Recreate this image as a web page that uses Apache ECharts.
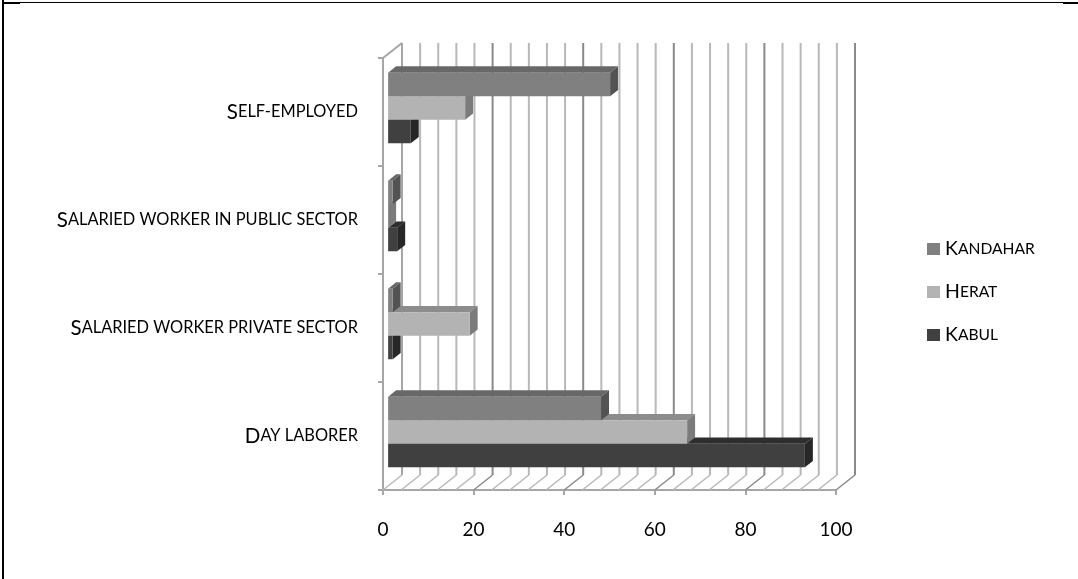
<!DOCTYPE html>
<html>
<head>
<meta charset="utf-8">
<script src="https://cdn.jsdelivr.net/npm/echarts@6/dist/echarts.min.js"></script>
<style>
  html, body { margin: 0; padding: 0; background: #ffffff; }
  #chart { width: 1078px; height: 579px; }
</style>
</head>
<body>
<div id="chart"></div>
<script>
// Employment type by city (%), bottom-to-top category order
const categories = ['Day laborer', 'Salaried worker private sector', 'Salaried worker in public sector', 'Self-employed'];
const kabul    = [92, 1, 2, 5];
const herat    = [66, 18, 0, 17];
const kandahar = [47, 1, 1, 49];
const cityNames = ['Kandahar', 'Herat', 'Kabul'];
const valueMin = 0, valueMax = 100, valueStep = 20, minorStep = 4;

// Pseudo-3D geometry: offset of the back wall from the front plane
const DX = 19, DY = -15;
const F0 = 0.27, F1 = 0.69;       // bar front/back depth as a fraction of the box depth
const BAR_FRAC = 0.218;           // height of one bar as a fraction of a category band
const FONT = 'Lato, "Open Sans", sans-serif';

// Small-caps text: capitals at full size, lower-case letters as smaller capitals
function smallCaps(text) {
  let out = '', run = '', kind = null;
  const flush = () => { if (run) out += '{' + kind + '|' + run + '}'; run = ''; };
  for (const ch of text) {
    const k = (ch !== ch.toLowerCase()) ? 'cap' : 'sc';
    if (k !== kind) { flush(); kind = k; }
    run += ch.toUpperCase();
  }
  flush();
  return out;
}

function capsRich(capSize, scSize) {
  return {
    cap: { fontFamily: FONT, fontSize: capSize, color: '#000', lineHeight: 24 },
    sc:  { fontFamily: FONT, fontSize: scSize, color: '#000', lineHeight: 24 }
  };
}

// One 3D bar: front face, top face and right side face
function barRenderer(slot, colors) {
  return function (params, api) {
    const val = api.value(0), cat = api.value(1);
    const base = api.coord([0, cat]);
    const end = api.coord([val, cat]);
    const band = api.size([0, 1])[1];
    const h = band * BAR_FRAC;
    const ox = DX * F0, oy = DY * F0;
    const dx = DX * (F1 - F0), dy = DY * (F1 - F0);
    const x0 = base[0] + ox, x1 = end[0] + ox;
    const y0 = base[1] - 1.5 * h + slot * h + oy;
    const y1 = y0 + h;
    return {
      type: 'group',
      children: [
        { type: 'polygon', shape: { points: [[x0, y0], [x1, y0], [x1 + dx, y0 + dy], [x0 + dx, y0 + dy]] },
          style: { fill: colors.top } },
        { type: 'polygon', shape: { points: [[x1, y0], [x1 + dx, y0 + dy], [x1 + dx, y1 + dy], [x1, y1]] },
          style: { fill: colors.side } },
        { type: 'rect', shape: { x: x0, y: y0, width: Math.max(0, x1 - x0), height: h },
          style: { fill: colors.front } }
      ]
    };
  };
}

// Walls and floor of the 3D box, with gridlines on the back wall and floor
function frameRenderer(params, api) {
  const cs = params.coordSys;
  const top = cs.y, bottom = cs.y + cs.height;
  const left = api.coord([valueMin, 0])[0];
  const children = [];
  const minorColor = '#b8b8b8', majorColor = '#8a8a8a', wallColor = '#a6a6a6';
  for (let v = valueMin; v <= valueMax; v += minorStep) {
    const x = api.coord([v, 0])[0];
    const color = (v % valueStep === 0 && v !== valueMin) ? majorColor : minorColor;
    children.push({ type: 'line', shape: { x1: x + DX, y1: top + DY, x2: x + DX, y2: bottom + DY },
      style: { stroke: color, lineWidth: 2 } });
    children.push({ type: 'line', shape: { x1: x, y1: bottom, x2: x + DX, y2: bottom + DY },
      style: { stroke: color, lineWidth: 1.5 } });
  }
  children.push({ type: 'line', shape: { x1: left, y1: top, x2: left + DX, y2: top + DY },
    style: { stroke: wallColor, lineWidth: 2 } });
  children.push({ type: 'line', shape: { x1: left + DX, y1: top + DY, x2: left + DX, y2: bottom + DY },
    style: { stroke: wallColor, lineWidth: 2 } });
  return { type: 'group', children: children };
}

const chart = echarts.init(document.getElementById('chart'), null, { renderer: 'canvas' });

const barColors = {
  Kandahar: { front: '#808080', top: '#686868', side: '#535353' },
  Herat:    { front: '#b3b3b3', top: '#8c8c8c', side: '#7b7b7b' },
  Kabul:    { front: '#404040', top: '#2e2e2e', side: '#272727' }
};

function barSeries(name, values, slot) {
  return {
    name: name,
    type: 'custom',
    renderItem: barRenderer(slot, barColors[name]),
    itemStyle: { color: barColors[name].front },
    encode: { x: 0, y: 1 },
    data: values.map((v, i) => [v, i]),
    z: 3
  };
}

chart.setOption({
  animation: false,
  backgroundColor: '#ffffff',
  grid: { left: 383, top: 58, width: 453, height: 432, containLabel: false },
  xAxis: {
    type: 'value', min: valueMin, max: valueMax, interval: valueStep,
    splitLine: { show: false },
    axisLine: { show: true, lineStyle: { color: '#a6a6a6', width: 2 } },
    axisTick: { show: true, length: 5, lineStyle: { color: '#a6a6a6', width: 2 } },
    axisLabel: { margin: 30, fontFamily: FONT, fontSize: 19, color: '#000' }
  },
  yAxis: {
    type: 'category', data: categories,
    axisLine: { show: true, lineStyle: { color: '#a6a6a6', width: 2 } },
    axisTick: { show: true, length: 5, lineStyle: { color: '#a6a6a6', width: 2 } },
    splitLine: { show: false },
    axisLabel: {
      margin: 25, align: 'right',
      formatter: (t) => smallCaps(t),
      rich: capsRich(20.5, 16.4)
    }
  },
  legend: {
    orient: 'vertical', left: 922, top: 234,
    data: cityNames,
    icon: 'rect', itemWidth: 13, itemHeight: 12, itemGap: 23,
    selectedMode: false,
    formatter: (n) => smallCaps(n),
    textStyle: { padding: [0, 0, 0, 0], rich: capsRich(19.5, 15.6) }
  },
  graphic: [
    { type: 'line', shape: { x1: 2, y1: 2.5, x2: 1078, y2: 2.5 }, style: { stroke: '#000', lineWidth: 1 }, silent: true },
    { type: 'line', shape: { x1: 3, y1: 0, x2: 3, y2: 579 }, style: { stroke: '#000', lineWidth: 2 }, silent: true },
    { type: 'rect', shape: { x: 2, y: 2, width: 18, height: 2 }, style: { fill: '#000' }, silent: true },
    { type: 'rect', shape: { x: 1063, y: 2, width: 15, height: 2 }, style: { fill: '#000' }, silent: true }
  ],
  series: [
    {
      name: 'frame', type: 'custom', renderItem: frameRenderer, silent: true,
      data: [[0, 0]], encode: { x: 0, y: 1 }, z: 1
    },
    barSeries('Kabul', kabul, 2),
    barSeries('Herat', herat, 1),
    barSeries('Kandahar', kandahar, 0)
  ]
});
</script>
</body>
</html>
